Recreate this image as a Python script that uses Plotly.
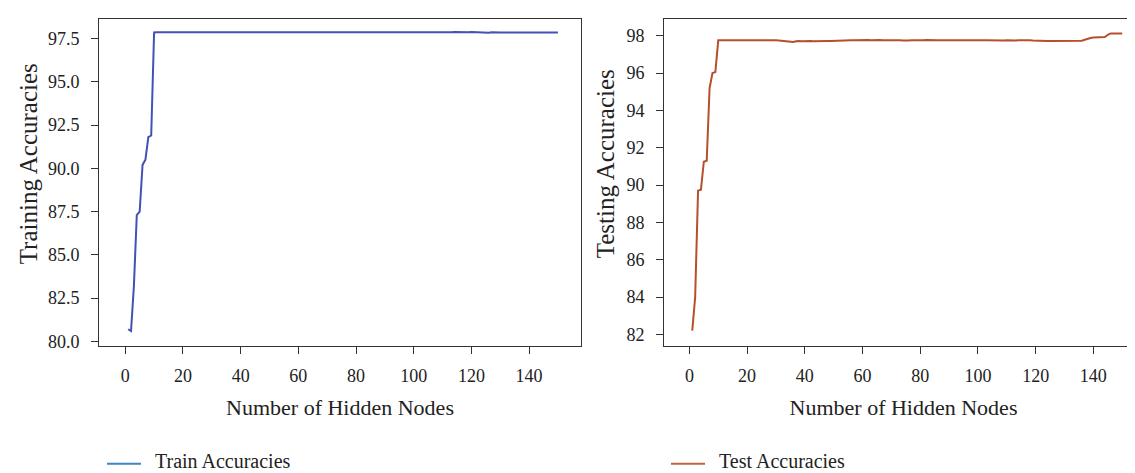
import plotly.graph_objects as go

hidden_nodes = list(range(1, 151))

train_acc = [
    80.70, 80.60, 83.20, 87.30, 87.50, 90.20, 90.50, 91.80, 91.90, 97.85,
    97.86, 97.86, 97.85, 97.86, 97.87, 97.85, 97.84, 97.85, 97.86, 97.85,
    97.84, 97.83, 97.84, 97.85, 97.84, 97.83, 97.84, 97.83, 97.84, 97.86,
    97.87, 97.87, 97.86, 97.87, 97.87, 97.86, 97.87, 97.86, 97.87, 97.87,
    97.86, 97.87, 97.86, 97.86, 97.87, 97.86, 97.87, 97.86, 97.86, 97.87,
    97.86, 97.86, 97.87, 97.86, 97.85, 97.86, 97.85, 97.86, 97.85, 97.84,
    97.85, 97.84, 97.85, 97.84, 97.83, 97.84, 97.85, 97.84, 97.85, 97.86,
    97.85, 97.86, 97.85, 97.86, 97.87, 97.86, 97.87, 97.86, 97.87, 97.86,
    97.87, 97.86, 97.87, 97.86, 97.87, 97.86, 97.85, 97.86, 97.85, 97.84,
    97.83, 97.84, 97.85, 97.84, 97.85, 97.86, 97.85, 97.86, 97.85, 97.86,
    97.85, 97.86, 97.85, 97.86, 97.87, 97.86, 97.85, 97.86, 97.87, 97.86,
    97.87, 97.86, 97.87, 97.88, 97.87, 97.88, 97.87, 97.88, 97.87, 97.88,
    97.87, 97.88, 97.87, 97.86, 97.85, 97.84, 97.86, 97.87, 97.86, 97.85,
    97.85, 97.85, 97.85, 97.85, 97.85, 97.85, 97.85, 97.85, 97.85, 97.85,
    97.85, 97.85, 97.85, 97.85, 97.85, 97.85, 97.85, 97.85, 97.85, 97.85,
]

test_acc = [
    82.20, 84.00, 89.70, 89.75, 91.25, 91.30, 95.20, 96.00, 96.05, 97.75,
    97.75, 97.75, 97.75, 97.75, 97.75, 97.75, 97.75, 97.76, 97.75, 97.76,
    97.78, 97.79, 97.78, 97.77, 97.78, 97.77, 97.76, 97.77, 97.76, 97.75,
    97.74, 97.73, 97.72, 97.71, 97.68, 97.66, 97.70, 97.72, 97.70, 97.71,
    97.72, 97.71, 97.70, 97.71, 97.70, 97.70, 97.71, 97.72, 97.71, 97.72,
    97.73, 97.74, 97.74, 97.75, 97.75, 97.76, 97.75, 97.76, 97.76, 97.77,
    97.76, 97.77, 97.76, 97.77, 97.78, 97.77, 97.76, 97.77, 97.76, 97.75,
    97.76, 97.77, 97.76, 97.74, 97.72, 97.74, 97.76, 97.75, 97.76, 97.77,
    97.76, 97.77, 97.76, 97.75, 97.76, 97.75, 97.76, 97.75, 97.74, 97.75,
    97.76, 97.75, 97.76, 97.77, 97.76, 97.75, 97.76, 97.75, 97.76, 97.75,
    97.74, 97.75, 97.76, 97.75, 97.74, 97.75, 97.74, 97.73, 97.74, 97.75,
    97.74, 97.75, 97.74, 97.75, 97.76, 97.75, 97.76, 97.75, 97.74, 97.73,
    97.74, 97.73, 97.73, 97.72, 97.72, 97.72, 97.72, 97.72, 97.72, 97.72,
    97.72, 97.72, 97.72, 97.72, 97.72, 97.73, 97.78, 97.85, 97.88, 97.90,
    97.90, 97.90, 97.91, 97.93, 98.05, 98.12, 98.12, 98.12, 98.12, 98.12,
]

x_ticks = [0, 20, 40, 60, 80, 100, 120, 140]
train_y_ticks = [80.0, 82.5, 85.0, 87.5, 90.0, 92.5, 95.0, 97.5]
test_y_ticks = [82, 84, 86, 88, 90, 92, 94, 96, 98]

series_names = ["Train Accuracies", "Test Accuracies"]
y_titles = ["Training Accuracies", "Testing Accuracies"]
x_title = "Number of Hidden Nodes"

FONT = "Liberation Serif"
AX = "#333333"
W, H = 1135, 473
TRAIN_COLOR = "#4251b3"
TEST_COLOR = "#b4502b"
TRAIN_KEY = "#3a86c6"
TEST_KEY = "#c0643c"

fig = go.Figure()

fig.add_trace(go.Scatter(x=hidden_nodes, y=train_acc, mode="lines", name=series_names[0],
                         line=dict(color=TRAIN_COLOR, width=2),
                         xaxis="x", yaxis="y", showlegend=False))
fig.add_trace(go.Scatter(x=hidden_nodes, y=test_acc, mode="lines", name=series_names[1],
                         line=dict(color=TEST_COLOR, width=2),
                         xaxis="x2", yaxis="y2", showlegend=False))

y_dom = [1 - 342 / H, 1 - 11 / H]

common_axis = dict(showline=True, linecolor=AX, linewidth=1, ticks="outside",
                   ticklen=7, tickwidth=1, tickcolor=AX, showgrid=False,
                   zeroline=False,
                   tickfont=dict(family=FONT, size=18, color="#222"))

fig.update_layout(
    width=W, height=H,
    margin=dict(l=0, r=0, t=0, b=0),
    paper_bgcolor="white", plot_bgcolor="white",
    font=dict(family=FONT, color="#222"),
    showlegend=False,
    xaxis=dict(domain=[91 / W, 573 / W], range=[-9.1, 158.0], tickvals=x_ticks,
               mirror=True, anchor="y", ticklabelstandoff=6,
               title=dict(text=x_title, font=dict(family=FONT, size=22), standoff=14),
               **common_axis),
    yaxis=dict(domain=y_dom, range=[79.71, 98.64], tickvals=train_y_ticks, tickformat=".1f",
               mirror=True, anchor="x", ticklabelstandoff=8,
               **common_axis),
    xaxis2=dict(domain=[656 / W, 1.0], range=[-8.8, 157.2], tickvals=x_ticks,
                mirror=True, anchor="y2", ticklabelstandoff=6,
                title=dict(text=x_title, font=dict(family=FONT, size=22), standoff=14),
                **common_axis),
    yaxis2=dict(domain=y_dom, range=[81.36, 98.9], tickvals=test_y_ticks,
                mirror=False, anchor="x2", ticklabelstandoff=8,
                **common_axis),
)

# y-axis titles
for xpx, txt in [(20, y_titles[0]), (597, y_titles[1])]:
    fig.add_annotation(x=xpx / W, y=1 - 158 / H, xref="paper", yref="paper",
                       text=txt, textangle=-90, showarrow=False,
                       xanchor="center", yanchor="middle",
                       font=dict(family=FONT, size=25, color="#222"))

# legend keys (drawn below the panels)
for x0, tx, col, name in [(99, 146, TRAIN_KEY, series_names[0]),
                          (663, 710, TEST_KEY, series_names[1])]:
    fig.add_shape(type="line", xref="paper", yref="paper",
                  x0=x0 / W, x1=(x0 + 34) / W, y0=1 - 460.5 / H, y1=1 - 460.5 / H,
                  line=dict(color=col, width=2))
    fig.add_annotation(x=tx / W, y=1 - 458 / H, xref="paper", yref="paper",
                       text=name, showarrow=False, xanchor="left", yanchor="middle",
                       borderpad=0,
                       font=dict(family=FONT, size=20, color="#222"))

fig.write_html("out.html")
